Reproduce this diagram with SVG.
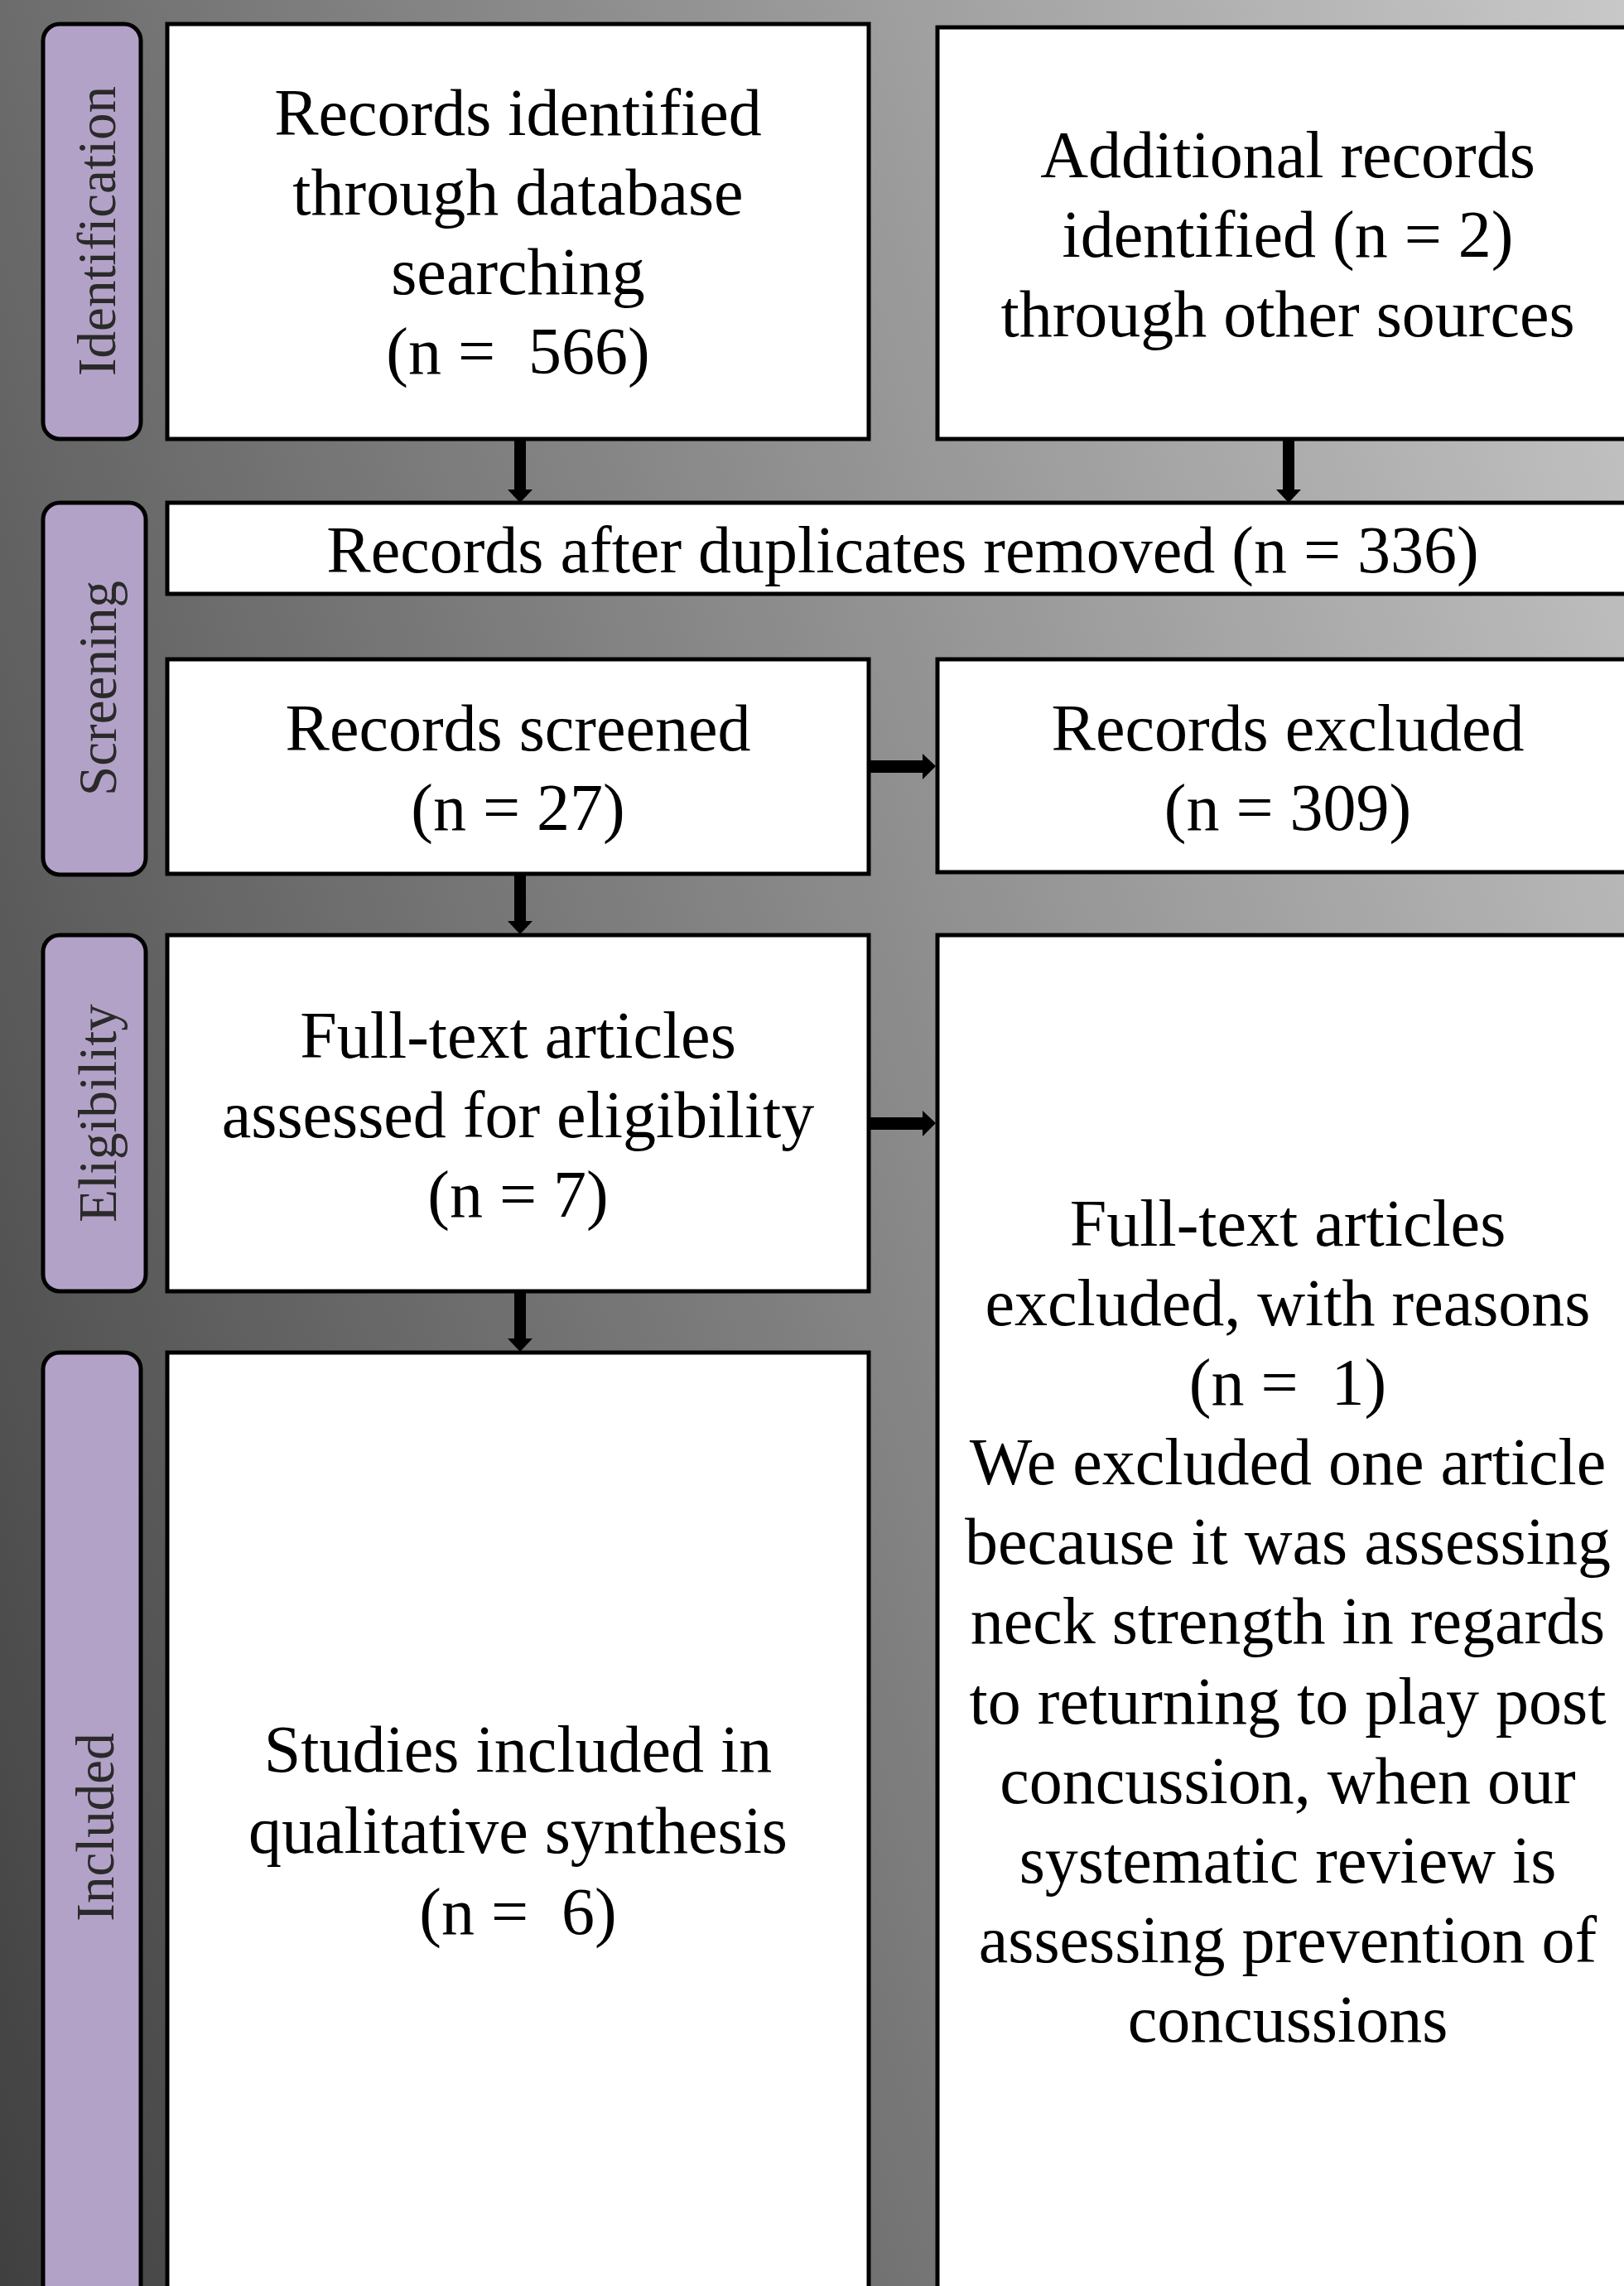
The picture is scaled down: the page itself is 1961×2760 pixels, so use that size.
<svg xmlns="http://www.w3.org/2000/svg" width="1961" height="2760" viewBox="0 0 1961 2760">
<defs>
<linearGradient id="bg" gradientUnits="userSpaceOnUse" x1="0" y1="2760" x2="2598" y2="1879">
<stop offset="0" stop-color="#404040"/>
<stop offset="1" stop-color="#c8c8c8"/>
</linearGradient>
</defs>
<style>
.box{fill:#ffffff;stroke:#000000;stroke-width:5}
.lab{fill:#b3a2c7;stroke:#000000;stroke-width:5}
.t{font-family:"Liberation Serif","Times New Roman",serif;font-size:80px;fill:#000000;text-anchor:middle;white-space:pre}
.lt{font-family:"Liberation Serif","Times New Roman",serif;font-size:65px;fill:#2a2a2a;text-anchor:middle}
.arr{fill:#000000}
</style>
<rect x="0" y="0" width="1961" height="2760" fill="url(#bg)"/>

<g id="label-identification">
<rect class="lab" x="52" y="29" width="118" height="501" rx="20"/>
<text class="lt" transform="translate(139,279) rotate(-90)">Identification</text>
</g>
<g id="label-screening">
<rect class="lab" x="52" y="607" width="124" height="449" rx="20"/>
<text class="lt" transform="translate(140,831) rotate(-90)">Screening</text>
</g>
<g id="label-eligibility">
<rect class="lab" x="52" y="1129" width="124" height="430" rx="20"/>
<text class="lt" transform="translate(140,1344) rotate(-90)">Eligibility</text>
</g>
<g id="label-included">
<rect class="lab" x="52" y="1633" width="118" height="1160" rx="20"/>
<text class="lt" transform="translate(137,2206) rotate(-90)">Included</text>
</g>

<g id="n-database">
<rect class="box" x="202" y="29" width="847" height="501"/>
<text class="t" x="625.5" y="163">Records identified</text>
<text class="t" x="625.5" y="259">through database</text>
<text class="t" x="625.5" y="355">searching</text>
<text class="t" x="625.5" y="451">(n =  566)</text>
</g>
<g id="n-other">
<rect class="box" x="1132" y="33" width="847" height="497"/>
<text class="t" x="1555" y="214">Additional records</text>
<text class="t" x="1555" y="310">identified (n = 2)</text>
<text class="t" x="1555" y="406">through other sources</text>
</g>
<g id="n-duplicates">
<rect class="box" x="202" y="607" width="1777" height="110"/>
<text class="t" x="1090" y="691">Records after duplicates removed (n = 336)</text>
</g>
<g id="n-screened">
<rect class="box" x="202" y="796" width="847" height="259"/>
<text class="t" x="625.5" y="906">Records screened</text>
<text class="t" x="625.5" y="1002">(n = 27)</text>
</g>
<g id="n-excluded">
<rect class="box" x="1132" y="796" width="847" height="257"/>
<text class="t" x="1555" y="906">Records excluded</text>
<text class="t" x="1555" y="1002">(n = 309)</text>
</g>
<g id="n-fulltext">
<rect class="box" x="202" y="1129" width="847" height="430"/>
<text class="t" x="625.5" y="1277">Full-text articles</text>
<text class="t" x="625.5" y="1373">assessed for eligibility</text>
<text class="t" x="625.5" y="1469">(n = 7)</text>
</g>
<g id="n-fulltext-excluded">
<rect class="box" x="1132" y="1129" width="847" height="1670"/>
<text class="t" x="1555" y="1504">Full-text articles</text>
<text class="t" x="1555" y="1600">excluded, with reasons</text>
<text class="t" x="1555" y="1696">(n =  1)</text>
<text class="t" x="1555" y="1792">We excluded one article</text>
<text class="t" x="1555" y="1888">because it was assessing</text>
<text class="t" x="1555" y="1984">neck strength in regards</text>
<text class="t" x="1555" y="2081">to returning to play post</text>
<text class="t" x="1555" y="2177">concussion, when our</text>
<text class="t" x="1555" y="2273">systematic review is</text>
<text class="t" x="1555" y="2369">assessing prevention of</text>
<text class="t" x="1555" y="2465">concussions</text>
</g>
<g id="n-included">
<rect class="box" x="202" y="1633" width="847" height="1160"/>
<text class="t" x="625.5" y="2139">Studies included in</text>
<text class="t" x="625.5" y="2237">qualitative synthesis</text>
<text class="t" x="625.5" y="2335">(n =  6)</text>
</g>

<g id="connectors">
<polygon class="arr" points="621,532 635,532 635,591 643,591 628,607 613,591 621,591"/>
<polygon class="arr" points="1549,532 1563,532 1563,591 1571,591 1556,607 1541,591 1549,591"/>
<polygon class="arr" points="1051,918 1114,918 1114,910 1130,925 1114,941 1114,933 1051,933"/>
<polygon class="arr" points="621,1057 635,1057 635,1112 643,1112 628,1128 613,1112 621,1112"/>
<polygon class="arr" points="1051,1349 1114,1349 1114,1341 1130,1356 1114,1372 1114,1364 1051,1364"/>
<polygon class="arr" points="621,1561 635,1561 635,1616 643,1616 628,1632 613,1616 621,1616"/>
</g>
</svg>
